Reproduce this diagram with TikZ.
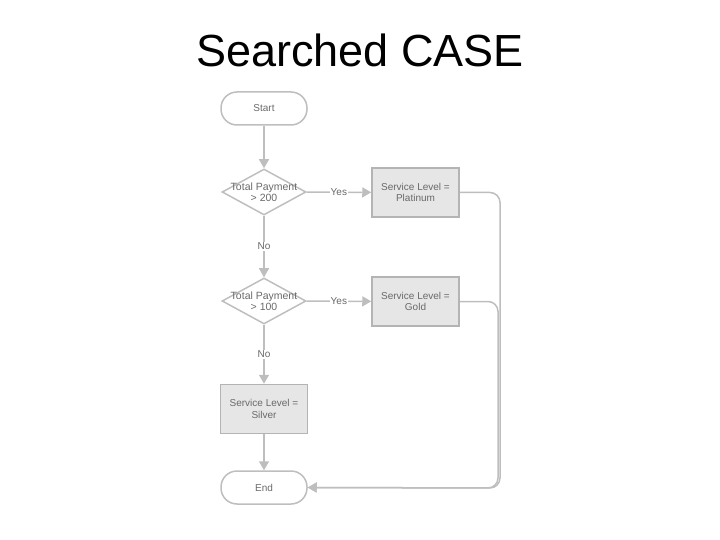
\documentclass[tikz,border=0pt]{standalone}
\usepackage{fontspec}
\setmainfont{Liberation Sans}
\usetikzlibrary{shapes.geometric,arrows.meta}
\definecolor{lgray}{RGB}{190,190,190}
\definecolor{bgray}{RGB}{180,180,180}
\definecolor{fgray}{RGB}{230,230,230}
\definecolor{tgray}{RGB}{105,105,105}
\tikzset{
  term/.style={draw=lgray,line width=1.5pt,rounded corners=16pt,minimum width=86pt,minimum height=33pt,inner sep=0pt,text=tgray,font=\fontsize{10}{12}\selectfont},
  dia/.style={draw=lgray,line width=1.5pt,shape=diamond,minimum width=84pt,minimum height=46pt,inner sep=0pt},
  diatext/.style={text=tgray,font=\fontsize{10.5}{11.5}\selectfont,align=center,inner sep=0pt},
  procbox/.style={draw=bgray,fill=fgray,line width=1.5pt,minimum width=87pt,minimum height=49pt,inner sep=0pt,text=tgray,align=center,font=\fontsize{10}{11.5}\selectfont},
  conn/.style={draw=lgray,line width=1.5pt,-{Triangle[length=9pt,width=10pt]}},
  lbl/.style={fill=white,text=tgray,inner sep=1pt,font=\fontsize{10}{12}\selectfont}
}
\begin{document}
\begin{tikzpicture}[x=1pt,y=-1pt]
\useasboundingbox (0,0) rectangle (720,540);
\node[font=\fontsize{45}{48}\selectfont] (title) at (360,50) {Searched CASE};
\node[term] (start) at (264,108.5) {Start};
\node[dia] (d1) at (264,192) {};
\node[diatext] (d1t) at (264,192) {Total Payment\\> 200};
\node[procbox] (plat) at (415.5,192.5) {Service Level =\\Platinum};
\node[dia] (d2) at (264,301) {};
\node[diatext] (d2t) at (264,301) {Total Payment\\> 100};
\node[procbox] (gold) at (415.5,301.5) {Service Level =\\Gold};
\node[procbox] (silver) at (264,409) {Service Level =\\Silver};
\node[term] (end) at (264,487.5) {End};
\draw[conn] (start) -- (d1);
\draw[conn] (d1) -- node[lbl] (y1) {Yes} (plat);
\draw[conn] (d1) -- node[lbl] (n1) {No} (d2);
\draw[conn] (d2) -- node[lbl] (y2) {Yes} (gold);
\draw[conn] (d2) -- node[lbl] (n2) {No} (silver);
\draw[conn] (silver) -- (end);
\coordinate (p1) at (500,192.5);
\coordinate (p2) at (500,488);
\coordinate (g1) at (498,301.5);
\coordinate (g2) at (498,488);
\draw[conn,rounded corners=10pt] (plat.east) -- (p1) -- (p2) -- (end.east);
\draw[conn,rounded corners=10pt] (gold.east) -- (g1) -- (g2) -- (end.east);
\end{tikzpicture}
\end{document}
